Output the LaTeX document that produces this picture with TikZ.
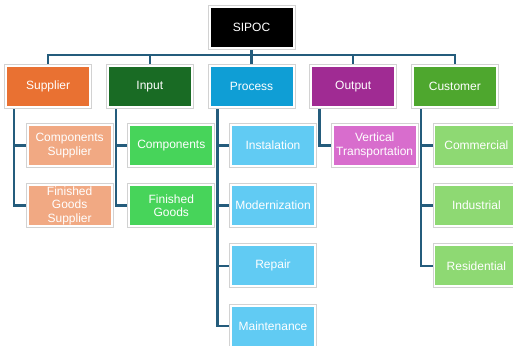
\documentclass[tikz,border=0pt]{standalone}
\usepackage{fontspec}
\setmainfont{Liberation Sans}
\usetikzlibrary{positioning,backgrounds}
\definecolor{sipocline}{HTML}{245C7C}
\definecolor{supc}{HTML}{E97132}
\definecolor{supl}{HTML}{F1A983}
\definecolor{inpc}{HTML}{196B24}
\definecolor{inpl}{HTML}{47D45A}
\definecolor{proc}{HTML}{0F9ED5}
\definecolor{prol}{HTML}{61CBF3}
\definecolor{outc}{HTML}{A02B93}
\definecolor{outl}{HTML}{D86DCD}
\definecolor{cusc}{HTML}{4EA72E}
\definecolor{cusl}{HTML}{8ED973}

\begin{document}
\begin{tikzpicture}[x=1pt,y=-1pt,font=\fontsize{12}{13.5}\selectfont,node distance=14pt,
  bx/.style={draw=gray!35,fill=white,line width=0.7pt,minimum width=87pt,minimum height=44pt,
    inner sep=0.5pt,text=white,align=center,
    path picture={\fill[#1] ([shift={(2.5pt,-2.5pt)}]path picture bounding box.north west)
      rectangle ([shift={(-2.5pt,2.5pt)}]path picture bounding box.south east);}},
  ln/.style={line width=2.4pt,draw=sipocline}]
\useasboundingbox (0,0) rectangle (513,345);
\node[bx=black] (top) at (251.5,27.5) {SIPOC};
% level one
\node[bx=proc,below=14.5pt of top] (pro) {Process};
\node[bx=inpc,left=14pt of pro] (inp) {Input};
\node[bx=supc,left=14pt of inp] (sup) {Supplier};
\node[bx=outc,right=14pt of pro] (out) {Output};
\node[bx=cusc,right=14pt of out] (cus) {Customer};
% level two
\node[bx=supl,below=14pt of sup,xshift=21.5pt] (sup1) {Components\\Supplier};
\node[bx=supl,below=15.5pt of sup1] (sup2) {Finished\\Goods\\Supplier};
\node[bx=inpl,below=14pt of inp,xshift=21.5pt] (inp1) {Components};
\node[bx=inpl,below=15.5pt of inp1] (inp2) {Finished\\Goods};
\node[bx=prol,below=14pt of pro,xshift=21.5pt] (pro1) {Instalation};
\node[bx=prol,below=15.5pt of pro1] (pro2) {Modernization};
\node[bx=prol,below=15.5pt of pro2] (pro3) {Repair};
\node[bx=prol,below=15.5pt of pro3] (pro4) {Maintenance};
\node[bx=outl,below=14pt of out,xshift=21.5pt] (out1) {Vertical\\Transportation};
\node[bx=cusl,below=14pt of cus,xshift=21.5pt] (cus1) {Commercial};
\node[bx=cusl,below=15.5pt of cus1] (cus2) {Industrial};
\node[bx=cusl,below=15.5pt of cus2] (cus3) {Residential};
\begin{scope}[on background layer]
\foreach \n in {sup,inp,pro,out,cus}
  \draw[ln] (top.south) -- ([yshift=-5pt]top.south) -| (\n.north);
\foreach \p/\c in {sup/sup1,sup/sup2,inp/inp1,inp/inp2,pro/pro1,pro/pro2,pro/pro3,pro/pro4,
    out/out1,cus/cus1,cus/cus2,cus/cus3}
  \draw[ln] ([xshift=10pt]\p.south west) |- (\c.west);
\end{scope}
\end{tikzpicture}
\end{document}
